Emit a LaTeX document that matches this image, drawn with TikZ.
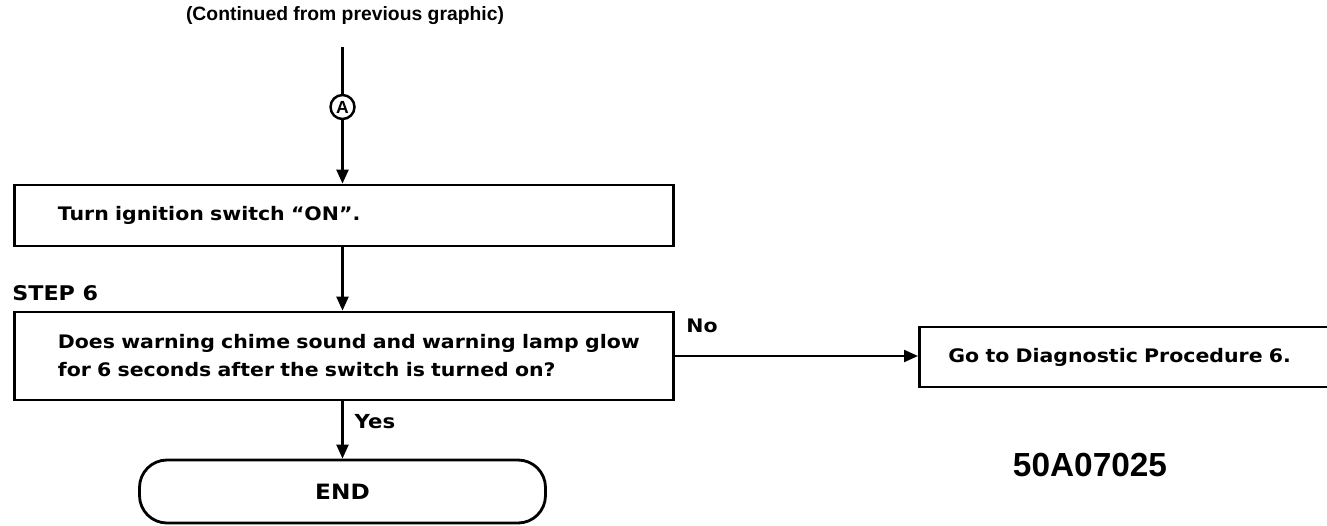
\documentclass[tikz,border=0pt]{standalone}
\usepackage{fontspec}
\setmainfont{Liberation Sans}
\newfontfamily\chartfont{DejaVu Sans}[FakeStretch=1.1]
\usetikzlibrary{arrows.meta}
\tikzset{
  flowbox/.style={draw,line width=1.6pt,rectangle,align=left,anchor=west,
                  font=\chartfont\bfseries\fontsize{10.6}{15.9}\selectfont},
  flowline/.style={line width=1.3pt,-{Triangle[length=2.8mm,width=2.4mm]}},
  flowlabel/.style={font=\chartfont\bfseries\fontsize{11}{13}\selectfont,inner sep=0pt}
}
\begin{document}
\begin{tikzpicture}
        \useasboundingbox (0,0) rectangle (26.54,-10.5);
        \node[font=\bfseries\fontsize{11}{13}\selectfont] (title) at (6.9,-0.32) {(Continued from previous graphic)};
        \coordinate (linetop) at (6.85,-0.94);
        \node[draw,circle,line width=1.4pt,inner sep=0pt,minimum size=0.48cm,
              font=\bfseries\fontsize{10}{10}\selectfont] (conA) at (6.85,-2.14) {A};
        \node[flowbox,minimum width=13.18cm,minimum height=1.22cm,
              text width=12cm,inner xsep=0.59cm] (ignition) at (0.26,-4.31)
              {\hspace*{0.28cm}Turn ignition switch “ON”.};
        \node[flowlabel,anchor=west,font=\chartfont\bfseries\fontsize{11.5}{13}\selectfont]
              (step) at (0.24,-5.87) {STEP 6};
        \node[flowbox,minimum width=13.18cm,minimum height=1.76cm,
              text width=12cm,inner xsep=0.59cm] (chime) at (0.26,-7.12)
              {\hspace*{0.28cm}Does warning chime sound and warning lamp glow\\
               \hspace*{0.28cm}for 6 seconds after the switch is turned on?};
        \node[flowbox,minimum width=8.5cm,minimum height=1.2cm,
              text width=7.34cm,inner xsep=0.58cm] (diag) at (18.36,-7.14)
              {Go to Diagnostic Procedure 6.};
        \node[draw,line width=1.6pt,rounded corners=0.55cm,minimum width=8.12cm,
              minimum height=1.26cm,font=\chartfont\bfseries\fontsize{12}{13}\selectfont]
              (finish) at (6.85,-9.83) {END};
        \node[flowlabel,font=\chartfont\bfseries\fontsize{10.6}{13}\selectfont] (nolbl) at (14.04,-6.51) {No};
        \node[flowlabel] (yeslbl) at (7.5,-8.44) {Yes};
        \node[font=\bfseries\fontsize{19}{21}\selectfont] (code) at (21.8,-9.3) {50A07025};
        % connectors down the main column
        \draw[line width=1.3pt] (linetop) -- (conA);
        \draw[flowline] (conA) -- (ignition.north -| conA);
        \draw[flowline] (ignition.south -| conA) -- (chime.north -| conA);
        \draw[flowline] (chime.south -| conA) -- (finish.north);
        \draw[flowline] (chime.east) -- (chime.east -| diag.west);
\end{tikzpicture}
\end{document}
